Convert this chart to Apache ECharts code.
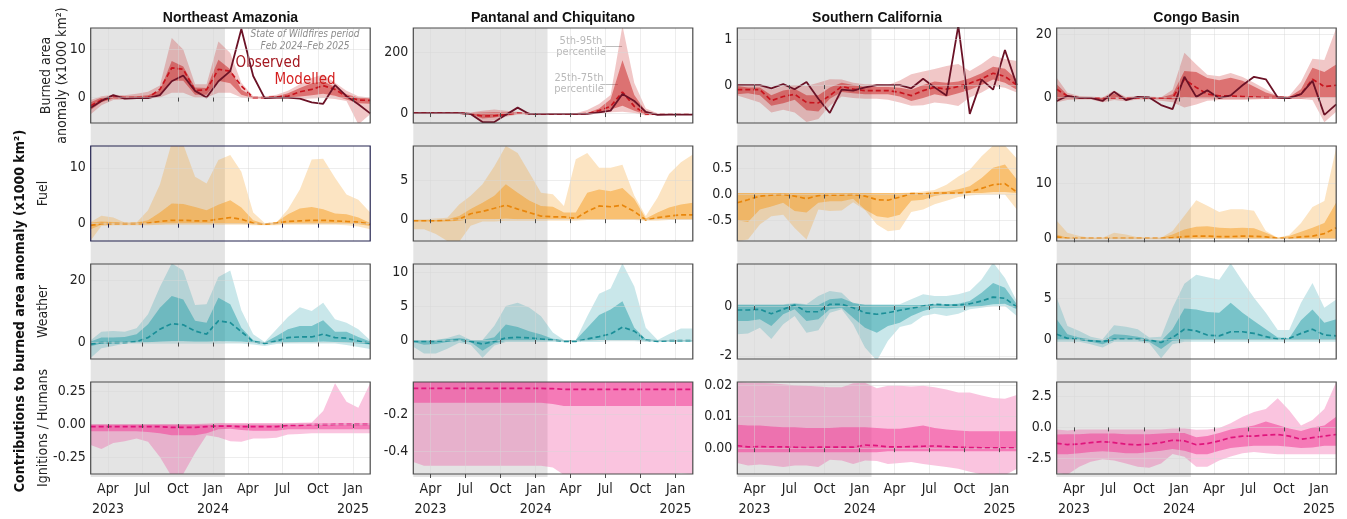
<!DOCTYPE html>
<html><head><meta charset="utf-8">
<script src="https://cdn.jsdelivr.net/npm/echarts@6/dist/echarts.min.js"></script>
<style>html,body{margin:0;padding:0;background:#fff}#c{width:1347px;height:519px}</style>
</head><body><div id="c"></div>
<script>
// ---------------- DATA ----------------
const months = ['2023-02','2023-03','2023-04','2023-05','2023-06','2023-07','2023-08','2023-09','2023-10','2023-11','2023-12',
  '2024-01','2024-02','2024-03','2024-04','2024-05','2024-06','2024-07','2024-08','2024-09','2024-10','2024-11','2024-12','2025-01','2025-02'];
const regions = ['Northeast Amazonia','Pantanal and Chiquitano','Southern California','Congo Basin'];
const rowNames = ['Burned area\nanomaly (x1000 km²)','Fuel','Weather','Ignitions / Humans'];
const xTickMonths = ['2023-04','2023-07','2023-10','2024-01','2024-04','2024-07','2024-10','2025-01'];
const xTickLabels = ['Apr\n2023','Jul','Oct','Jan\n2024','Apr','Jul','Oct','Jan\n2025'];
const shadeEndMonth = '2024-02';

// Row 1: burned area anomaly
const nea_ba_obs = [-2.1,-0.7,0.5,-0.2,-0.1,-0.1,0.5,3.4,4.6,1.4,0.0,3.4,5.5,14.3,4.5,-0.1,0.0,0.0,-0.2,-1.0,-1.3,2.6,0.3,-1.4,-3.3];
const nea_ba_med = [-1.7,-0.5,0.1,0.0,0.0,0.0,1.7,6.2,5.9,1.5,1.6,5.9,5.5,2.4,0.0,0.0,0.1,0.3,1.2,1.7,2.5,1.7,0.2,-0.5,-0.6];
const nea_ba_p05 = [-3.5,-1.6,-0.5,-0.4,-0.3,-0.2,0.0,1.0,1.0,0.0,0.0,1.0,1.0,0.0,-0.3,-0.3,-0.3,-0.3,-0.3,-0.2,-0.1,-0.3,-0.7,-5.6,-3.5];
const nea_ba_p25 = [-2.6,-1.0,-0.2,-0.2,-0.1,0.0,0.4,3.5,3.5,0.6,0.6,3.5,3.0,0.6,-0.1,-0.1,-0.1,0.0,0.2,0.5,0.8,0.4,-0.4,-1.2,-1.3];
const nea_ba_p75 = [-1.0,0.0,0.3,0.2,0.3,0.5,1.5,7.6,6.5,2.1,2.0,7.9,5.9,1.7,0.1,0.1,0.3,0.9,2.0,3.0,3.4,2.2,0.7,0.0,-0.2];
const nea_ba_p95 = [-0.5,0.3,0.6,0.5,0.8,1.2,2.5,12.4,10.0,2.8,2.8,11.7,9.3,3.1,0.3,0.2,0.6,1.4,2.8,4.1,4.8,3.1,1.4,0.3,0.0];

const pan_ba_obs = [0,0,0,0,0,-3,-30,-30,-6,18,-3,-3,-3,-3,-3,-3,2,8,63,40,4,-6,-5,-5,-5];
const pan_ba_med = [0,0,0,0,0,-3,-10,-9,-5,0,-2,-3,-3,-3,-3,-2,8,22,70,22,-3,-4,-4,-4,-4];
const pan_ba_p05 = [-3,-3,-3,-3,-3,-6,-28,-25,-12,-5,-4,-4,-4,-4,-4,-4,0,3,4,0,-8,-6,-5,-5,-5];
const pan_ba_p25 = [-1,-1,-1,-1,-1,-4,-18,-15,-8,-2,-3,-3,-3,-3,-3,-3,3,12,24,8,-5,-5,-4,-4,-4];
const pan_ba_p75 = [1,1,1,1,1,0,2,3,2,2,-1,-2,-2,-2,-2,0,15,46,175,60,5,-3,-3,-3,-3];
const pan_ba_p95 = [2,2,2,2,2,2,8,12,8,4,0,-1,-1,-1,-1,10,30,60,290,100,15,-1,-2,-2,-2];

const soc_ba_obs = [0,0,0,-0.07,0.02,-0.09,0.07,-0.3,-0.61,-0.1,-0.12,-0.05,0,0,0,-0.07,0.14,-0.05,-0.23,1.3,-0.63,0.12,-0.1,0.77,0];
const soc_ba_med = [-0.1,-0.1,-0.1,-0.34,-0.25,-0.2,-0.38,-0.39,-0.23,-0.03,-0.09,-0.12,-0.12,-0.12,-0.16,-0.23,-0.12,-0.05,-0.09,-0.03,0.04,0.14,0.26,0.19,0.0];
const soc_ba_p05 = [-0.23,-0.3,-0.38,-0.6,-0.54,-0.6,-0.81,-0.74,-0.45,-0.25,-0.28,-0.3,-0.3,-0.32,-0.38,-0.45,-0.44,-0.38,-0.41,-0.46,-0.27,-0.16,-0.02,-0.06,-0.16];
const soc_ba_p25 = [-0.2,-0.18,-0.22,-0.45,-0.4,-0.32,-0.55,-0.58,-0.3,-0.15,-0.18,-0.2,-0.2,-0.2,-0.25,-0.35,-0.28,-0.2,-0.25,-0.18,-0.1,0.0,0.12,0.05,-0.1];
const soc_ba_p75 = [-0.02,-0.05,-0.05,-0.22,-0.12,-0.08,-0.22,-0.22,-0.05,0.05,0.0,-0.04,-0.04,-0.04,-0.06,-0.1,0.0,0.08,0.05,0.08,0.15,0.26,0.4,0.36,0.12];
const soc_ba_p95 = [0.02,0.0,0.0,-0.1,-0.02,0.0,-0.02,0.05,0.13,0.12,0.05,0.02,0.02,0.0,0.1,0.24,0.3,0.35,0.42,0.46,0.31,0.46,0.64,0.57,0.53];

const cgo_ba_obs = [-1.1,0.5,-0.1,-0.1,-1.1,1.8,-0.8,0.2,0.0,-2.4,-3.7,6.6,0.2,2.3,-0.2,0.7,3.9,6.6,5.8,0.0,-0.2,1.1,5.3,-5.5,-2.2];
const cgo_ba_med = [2.6,0.5,-0.1,-0.1,-0.1,-0.1,-0.1,-0.1,-0.1,-0.1,-0.1,5.8,3.2,1.1,0.5,0.5,0.3,0.2,0.0,0.0,0.0,1.1,5.8,3.5,3.9];
const cgo_ba_p05 = [-1.5,-0.8,-0.6,-0.6,-1.5,-0.8,-1.2,-0.6,-0.6,-1.0,-1.5,-3.2,-2.2,-1.0,-0.8,-0.8,-0.8,-0.6,-0.5,-0.5,-0.5,-0.5,-0.8,-7.9,-4.5];
const cgo_ba_p25 = [-0.5,-0.2,-0.3,-0.3,-0.8,0.0,-0.5,-0.2,-0.2,-0.4,-0.6,0.0,-0.2,-0.2,-0.3,-0.3,-0.3,-0.3,-0.3,-0.3,-0.3,-0.3,0.0,0.0,0.0];
const cgo_ba_p75 = [4.2,0.8,0.2,0.1,-0.1,1.2,0.0,0.2,0.1,0.0,1.0,8.4,8.1,6.2,5.5,6.3,5.3,3.5,1.6,0.5,0.2,2.6,9.5,8.1,10.5];
const cgo_ba_p95 = [6.3,1.5,0.5,0.3,0.0,2.2,0.2,0.5,0.3,0.1,2.5,14.2,10.5,7.2,6.8,7.8,6.5,4.7,2.6,0.5,0.5,5.0,12.3,11.9,22.0];

// Row 2: fuel
const nea_fuel_med = [-0.3,0.0,0.0,0.0,0.0,0.1,0.4,0.6,0.6,0.5,0.5,0.8,1.1,0.8,0.1,-0.1,0.1,0.4,0.5,0.6,0.6,0.5,0.4,0.3,-0.1];
const nea_fuel_p05 = [-3.0,-0.4,-0.3,-0.3,-0.3,-0.3,-0.2,-0.2,-0.2,-0.2,-0.2,-0.2,-0.2,-0.2,-0.3,-0.3,-0.3,-0.2,-0.2,-0.2,-0.2,-0.2,-0.3,-0.5,-1.0];
const nea_fuel_p25 = [-1.0,-0.2,-0.1,-0.1,-0.1,-0.1,-0.1,0.0,0.0,0.0,0.0,0.0,0.0,0.0,-0.1,-0.2,-0.1,0.0,0.0,0.0,0.0,0.0,0.0,-0.1,-0.4];
const nea_fuel_p75 = [0.2,0.4,0.3,0.1,0.2,0.6,2.0,3.6,3.5,3.0,2.4,3.4,4.2,2.9,0.6,0.0,0.3,1.7,2.7,3.0,2.6,1.8,1.7,1.1,0.1];
const nea_fuel_p95 = [0.3,1.4,1.1,0.2,0.2,2.4,7.0,14.5,14.2,8.4,7.2,11.4,12.3,9.3,2.0,0.1,0.2,2.6,6.1,11.5,11.6,8.2,5.2,4.3,2.0];

const pan_fuel_med = [-0.2,-0.2,-0.2,-0.1,0.0,0.7,1.0,1.4,1.8,1.3,0.85,0.4,0.3,0.3,0.1,1.0,1.7,1.6,1.8,1.0,-0.1,0.2,0.4,0.55,0.55];
const pan_fuel_p05 = [-1.3,-1.3,-1.9,-2.8,-2.9,-0.85,-0.3,-0.3,-0.2,-0.2,-0.2,-0.2,-0.2,-0.2,-0.2,-0.1,-0.1,-0.1,-0.1,-0.1,-0.2,-0.2,-0.1,-0.1,-0.1];
const pan_fuel_p25 = [-0.3,-0.3,-0.3,-0.3,-0.2,0.0,0.0,0.0,0.1,0.0,0.0,0.0,0.0,0.0,0.0,0.0,0.0,0.0,0.0,0.0,-0.1,0.0,0.0,0.0,0.0];
const pan_fuel_p75 = [-0.1,-0.1,-0.1,0.0,0.4,1.3,2.1,3.0,4.5,3.4,2.4,1.7,1.6,0.85,0.85,3.4,3.8,3.6,4.0,2.6,0.1,0.85,1.5,1.9,2.1];
const pan_fuel_p95 = [0.0,0.0,0.1,0.2,1.9,3.0,4.5,6.8,9.4,8.5,6.0,3.4,3.2,1.7,7.7,8.5,6.6,6.6,7.0,3.0,0.4,2.8,5.8,7.3,8.3];

const soc_fuel_med = [-0.16,-0.1,-0.03,-0.01,0.0,-0.03,-0.08,-0.02,-0.01,-0.01,0.0,-0.03,-0.1,-0.11,-0.05,0.02,0.01,0.03,0.03,0.03,0.05,0.12,0.19,0.21,0.05];
const soc_fuel_p05 = [-0.9,-0.87,-0.58,-0.42,-0.39,-0.65,-0.87,-0.29,-0.32,-0.31,-0.15,-0.3,-0.58,-0.71,-0.68,-0.34,-0.29,-0.19,-0.12,-0.05,-0.02,0.0,0.0,0.0,-0.29];
const soc_fuel_p25 = [-0.5,-0.53,-0.29,-0.23,-0.16,-0.32,-0.35,-0.16,-0.13,-0.13,-0.08,-0.29,-0.42,-0.45,-0.39,-0.12,-0.1,-0.03,0.01,0.02,0.03,0.03,0.05,0.05,0.03];
const soc_fuel_p75 = [0.03,0.03,0.03,0.03,0.03,0.03,0.03,0.03,0.03,0.03,0.03,0.03,0.03,0.03,0.03,0.03,0.03,0.05,0.06,0.1,0.16,0.32,0.52,0.58,0.29];
const soc_fuel_p95 = [0.03,0.03,0.03,0.03,0.03,0.03,0.03,0.03,0.03,0.03,0.03,0.03,0.03,0.03,0.03,0.04,0.06,0.09,0.19,0.35,0.48,0.74,0.95,0.95,0.7];

const cgo_fuel_med = [0.25,0,0,0,0,0,0,0,0,0,0.1,0.3,0.4,0.4,0.3,0.3,0.4,0.35,0.25,0,0,0.25,0.4,0.85,1.9];
const cgo_fuel_p05 = [-0.2,-0.2,-0.2,-0.2,-0.2,-0.2,-0.2,-0.2,-0.2,-0.2,-0.2,-0.2,-0.2,-0.2,-0.2,-0.2,-0.2,-0.2,-0.2,-0.2,-0.2,-0.2,-0.2,-0.2,-0.2];
const cgo_fuel_p25 = [-0.1,-0.1,-0.1,-0.1,-0.1,-0.1,-0.1,-0.1,-0.1,-0.1,-0.1,-0.1,-0.1,-0.1,-0.1,-0.1,-0.1,-0.1,-0.1,-0.1,-0.1,-0.1,-0.1,-0.1,-0.1];
const cgo_fuel_p75 = [0.7,0.1,0.1,0.1,0.1,0.1,0.1,0.1,0.1,0.1,0.7,1.6,2.1,2.2,1.9,1.8,1.9,1.8,1.0,0.1,0.4,1.2,1.9,2.8,6.5];
const cgo_fuel_p95 = [3.2,1.0,0.4,0.1,0.1,1.0,0.7,0.2,0.1,0.1,1.3,4.1,6.9,5.9,4.8,5.3,5.3,5.0,1.3,0.1,0.6,2.8,5.7,6.8,16.5];

// Row 3: weather
const nea_wea_med = [-0.5,0,0,0,0.3,1.6,4.3,6.1,5.7,3.7,2.7,7.0,6.4,3.5,0.3,-0.3,0.5,1.6,1.8,1.8,2.7,1.6,1.4,0.5,-0.3];
const nea_wea_p05 = [-5.0,-1.8,-1.1,-0.3,-0.3,-0.3,-0.3,-0.3,-0.3,-0.3,-0.3,-0.3,-0.3,-0.3,-0.6,-1.1,-0.5,-0.3,-0.3,-0.3,-0.3,-0.3,-0.8,-1.4,-2.1];
const nea_wea_p25 = [-1.2,-0.3,-0.3,0,0,0.1,0.3,0.5,0.5,0.3,0.3,0.5,0.4,0.3,0,-0.5,0,0.1,0.2,0.2,0.3,0.2,0,-0.3,-0.6];
const nea_wea_p75 = [0.3,1.6,1.6,1.8,2.7,5.9,11.2,15.0,13.9,7.0,6.4,14.4,12.3,4.8,0.7,0.0,2.1,4.3,5.3,5.3,7.2,3.5,3.5,1.8,0.3];
const nea_wea_p95 = [0.7,3.5,3.7,3.5,4.6,9.1,17.9,25.5,23.2,12.1,12.3,21.1,23.2,10.4,2.7,0.2,4.3,8.2,11.4,10.2,12.8,7.5,6.4,4.3,0.7];

const pan_wea_med = [-0.2,-0.2,-0.2,-0.1,0.0,-0.2,-0.6,-0.2,0.3,0.4,0.3,0.15,0.0,-0.2,-0.2,0.15,0.5,0.9,1.9,1.3,0.0,-0.2,-0.1,-0.1,-0.1];
const pan_wea_p05 = [-1.0,-2.0,-2.0,-1.3,-0.4,-0.7,-2.6,-0.8,-0.3,-0.3,-0.3,-0.3,-0.3,-0.3,-0.3,-0.3,-0.3,-0.2,-0.2,-0.2,-0.3,-0.3,-0.3,-0.3,-0.3];
const pan_wea_p25 = [-0.3,-0.7,-0.6,-0.3,-0.1,-0.3,-1.6,-0.5,-0.1,-0.1,-0.1,-0.1,-0.1,-0.2,-0.2,-0.1,0,0,0,0,-0.1,-0.2,-0.2,-0.2,-0.2];
const pan_wea_p75 = [0.0,0.0,0.0,0.1,0.3,0.0,0.0,0.4,2.3,1.9,1.3,0.8,0.2,0.0,0.0,1.8,3.7,4.5,5.7,1.8,0.1,0.0,0.0,0.0,0.0];
const pan_wea_p95 = [0.0,0.0,0.0,0.3,0.8,0.0,0.0,2.1,5.0,5.5,4.8,3.5,1.1,0.0,0.0,3.5,6.8,7.6,11.3,7.9,1.8,0.0,0.9,1.7,1.7];

const soc_wea_med = [-0.16,-0.16,-0.13,-0.31,-0.13,0.04,-0.23,-0.23,0.07,0.07,-0.07,-0.27,-0.33,-0.27,-0.17,-0.09,0.0,0.07,0.04,0.04,0.09,0.2,0.36,0.31,-0.04];
const soc_wea_p05 = [-1.13,-1.1,-0.87,-1.33,-0.73,-0.4,-1.07,-0.97,-0.27,-0.13,-0.73,-1.67,-2.2,-1.4,-0.84,-0.73,-0.4,-0.31,-0.4,-0.31,-0.13,-0.07,0.0,0.0,-0.4];
const soc_wea_p25 = [-0.6,-0.6,-0.53,-0.8,-0.33,-0.13,-0.6,-0.53,-0.13,-0.07,-0.47,-0.87,-1.07,-0.8,-0.67,-0.4,-0.2,-0.07,-0.09,-0.07,-0.04,0.0,0.07,0.09,-0.13];
const soc_wea_p75 = [0.04,0.04,0.04,0.04,0.04,0.09,0.04,0.04,0.27,0.31,0.13,0.04,0.04,0.04,0.04,0.04,0.04,0.07,0.07,0.09,0.2,0.53,0.93,0.73,0.07];
const soc_wea_p95 = [0.07,0.07,0.07,0.07,0.07,0.12,0.07,0.4,0.6,0.53,0.09,0.07,0.07,0.07,0.07,0.27,0.47,0.4,0.4,0.47,0.6,1.07,1.75,1.13,0.2];

const cgo_wea_med = [0.6,0.1,0,-0.2,-0.3,0,0,0,-0.1,-0.4,0.2,1.2,1.0,0.5,0.4,0.9,0.9,0.7,0.3,0,0.1,0.7,1.2,0.5,0.4];
const cgo_wea_p05 = [-0.3,-0.3,-0.3,-0.6,-1.0,-0.3,-0.3,-0.3,-0.5,-2.3,-0.6,-0.3,-0.3,-0.3,-0.3,-0.3,-0.3,-0.3,-0.3,-0.3,-0.3,-0.3,-0.3,-0.3,-0.3];
const cgo_wea_p25 = [-0.1,-0.1,-0.1,-0.3,-0.6,-0.1,-0.1,-0.1,-0.3,-1.2,-0.2,-0.1,-0.1,-0.1,-0.1,-0.1,-0.1,-0.1,-0.1,-0.1,-0.1,-0.1,-0.1,-0.1,-0.1];
const cgo_wea_p75 = [2.4,0.6,0.2,0.0,-0.2,0.6,0.5,0.3,0.0,-0.2,1.2,3.7,3.6,3.3,3.2,4.4,3.2,2.2,1.2,0.2,0.1,2.3,3.6,2.0,2.4];
const cgo_wea_p95 = [5.0,1.6,1.0,0.3,0.0,1.7,1.5,1.2,0.2,0.3,3.8,6.7,7.8,7.5,7.2,9.2,7.0,5.0,3.2,1.1,1.1,4.4,6.8,3.8,4.8];

// Row 4: ignitions / humans
const nea_ign_med = [-0.02,-0.02,-0.02,-0.02,-0.02,-0.02,-0.02,-0.025,-0.025,-0.025,-0.02,-0.015,-0.015,-0.02,-0.02,-0.02,-0.02,-0.01,-0.01,-0.005,-0.005,-0.003,-0.003,-0.003,-0.003];
const nea_ign_p05 = [-0.16,-0.19,-0.145,-0.13,-0.11,-0.135,-0.25,-0.4,-0.38,-0.22,-0.085,-0.1,-0.13,-0.135,-0.11,-0.11,-0.105,-0.08,-0.075,-0.07,-0.07,-0.07,-0.07,-0.07,-0.07];
const nea_ign_p25 = [-0.055,-0.055,-0.055,-0.055,-0.055,-0.06,-0.07,-0.085,-0.085,-0.085,-0.07,-0.04,-0.035,-0.045,-0.05,-0.05,-0.05,-0.04,-0.04,-0.04,-0.04,-0.04,-0.04,-0.04,-0.04];
const nea_ign_p75 = [0.0,0.0,0.0,0.0,0.0,0.0,0.0,0.0,0.0,0.0,0.0,0.005,0.005,0.005,0.005,0.005,0.005,0.005,0.005,0.005,0.005,0.005,0.005,0.005,0.005];
const nea_ign_p95 = [0.0,0.0,0.0,0.0,0.0,0.0,0.0,0.0,0.0,0.0,0.005,0.005,0.005,0.005,0.005,0.005,0.005,0.005,0.01,0.012,0.1,0.31,0.17,0.125,0.31];

const pan_ign_med = [-0.061,-0.061,-0.061,-0.061,-0.061,-0.061,-0.061,-0.061,-0.061,-0.061,-0.061,-0.061,-0.062,-0.066,-0.066,-0.066,-0.066,-0.066,-0.066,-0.066,-0.066,-0.066,-0.066,-0.066,-0.066];
const pan_ign_p05 = [-0.46,-0.48,-0.48,-0.48,-0.48,-0.48,-0.48,-0.48,-0.48,-0.48,-0.48,-0.48,-0.49,-0.53,-0.535,-0.535,-0.535,-0.535,-0.535,-0.535,-0.535,-0.535,-0.53,-0.52,-0.525];
const pan_ign_p25 = [-0.139,-0.139,-0.139,-0.139,-0.139,-0.139,-0.139,-0.139,-0.139,-0.139,-0.139,-0.139,-0.145,-0.156,-0.156,-0.156,-0.156,-0.156,-0.156,-0.156,-0.156,-0.156,-0.156,-0.156,-0.156];
const pan_ign_p75 = [-0.015,-0.015,-0.015,-0.015,-0.015,-0.015,-0.015,-0.015,-0.015,-0.015,-0.015,-0.015,-0.015,-0.015,-0.015,-0.015,-0.015,-0.015,-0.015,-0.015,-0.015,-0.015,-0.015,-0.015,-0.015];
const pan_ign_p95 = [0,0,0,0,0,0,0,0,0,0,0,0,0,0,0,0,0,0,0,0,0,0,0,0,0];

const soc_ign_med = [0.0008,0.0004,0.0005,0.0004,0.0004,0.0003,0.0002,0.0003,0.0003,0.0003,0.0003,0.001,0.0008,0.0004,0.0004,0.0005,0.0006,0.0007,0.0005,0.0003,0.0002,0.0001,0.0001,0.0001,0.0001];
const soc_ign_p05 = [-0.0047,-0.0055,-0.0052,-0.0055,-0.006,-0.0055,-0.0055,-0.006,-0.0037,-0.0039,-0.005,-0.0039,-0.0041,-0.005,-0.0047,-0.0044,-0.005,-0.0055,-0.006,-0.0065,-0.0075,-0.0083,-0.0083,-0.0086,-0.0065];
const soc_ign_p25 = [-0.0013,-0.0013,-0.0013,-0.0013,-0.0013,-0.0013,-0.0013,-0.0013,-0.0013,-0.0013,-0.0013,-0.0013,-0.0013,-0.001,-0.001,-0.001,-0.001,-0.001,-0.001,-0.001,-0.001,-0.001,-0.001,-0.001,-0.001];
const soc_ign_p75 = [0.0074,0.0072,0.0072,0.0069,0.0066,0.0066,0.0064,0.0064,0.0064,0.0066,0.0066,0.0066,0.0064,0.0062,0.0062,0.0066,0.0072,0.0064,0.0059,0.0056,0.0054,0.0054,0.0054,0.0054,0.0054];
const soc_ign_p95 = [0.021,0.0208,0.0208,0.0206,0.0203,0.02,0.0198,0.0196,0.0193,0.0193,0.0206,0.0208,0.019,0.0198,0.0198,0.0196,0.0198,0.0193,0.0186,0.0177,0.0177,0.0167,0.0159,0.0157,0.0169];

const cgo_ign_med = [-1.3,-1.4,-1.35,-1.24,-1.16,-1.24,-1.37,-1.42,-1.37,-1.24,-1.05,-1.1,-1.42,-1.32,-1.1,-0.84,-0.71,-0.71,-0.63,-0.58,-0.71,-0.97,-0.84,-0.71,-0.58];
const cgo_ign_p05 = [-3.7,-3.85,-3.2,-2.8,-2.6,-2.7,-2.95,-3.2,-3.3,-2.95,-2.16,-2.4,-3.2,-3.2,-2.7,-2.37,-2.1,-2.0,-2.1,-2.2,-2.2,-2.2,-2.2,-2.2,-2.2];
const cgo_ign_p25 = [-2.2,-2.2,-2.1,-2.0,-1.95,-2.0,-2.1,-2.1,-2.0,-1.9,-1.76,-1.9,-2.2,-2.2,-1.9,-1.68,-1.58,-1.5,-1.5,-1.5,-1.58,-1.68,-1.63,-1.5,-1.5];
const cgo_ign_p75 = [-0.58,-0.55,-0.55,-0.5,-0.5,-0.5,-0.55,-0.55,-0.55,-0.5,-0.45,-0.45,-0.8,-0.7,-0.45,-0.18,0.0,0.16,0.47,0.2,-0.1,-0.3,0.0,0.16,0.87];
const cgo_ign_p95 = [-0.18,-0.25,-0.18,-0.18,-0.18,-0.18,-0.18,-0.18,-0.18,-0.18,-0.1,-0.1,-0.2,-0.18,-0.05,0.34,0.87,1.26,1.5,2.37,1.4,0.16,0.6,1.5,3.7];

// Y axis ranges, tick values and tick labels
const nea_ba_yr = [-5.3, 14.5],  nea_ba_yt = [0, 10],  nea_ba_yl = ['0','10'];
const pan_ba_yr = [-33, 282],    pan_ba_yt = [0, 200], pan_ba_yl = ['0','200'];
const soc_ba_yr = [-0.83, 1.25], soc_ba_yt = [0, 1],   soc_ba_yl = ['0','1'];
const cgo_ba_yr = [-8.1, 22.1],  cgo_ba_yt = [0, 20],  cgo_ba_yl = ['0','20'];
const nea_fuel_yr = [-3.1, 13.9], nea_fuel_yt = [0, 10], nea_fuel_yl = ['0','10'];
const pan_fuel_yr = [-2.8, 9.4],  pan_fuel_yt = [0, 5],  pan_fuel_yl = ['0','5'];
const soc_fuel_yr = [-0.9, 0.94], soc_fuel_yt = [-0.5, 0, 0.5], soc_fuel_yl = ['-0.5','0.0','0.5'];
const cgo_fuel_yr = [-0.5, 16.8], cgo_fuel_yt = [0, 10], cgo_fuel_yl = ['0','10'];
const nea_wea_yr = [-5.3, 25.3], nea_wea_yt = [0, 20], nea_wea_yl = ['0','20'];
const pan_wea_yr = [-2.8, 11.2], pan_wea_yt = [0, 5, 10], pan_wea_yl = ['0','5','10'];
const soc_wea_yr = [-2.13, 1.69], soc_wea_yt = [-2, 0], soc_wea_yl = ['-2','0'];
const cgo_wea_yr = [-2.4, 9.1], cgo_wea_yt = [0, 5], cgo_wea_yl = ['0','5'];
const nea_ign_yr = [-0.38, 0.32], nea_ign_yt = [-0.25, 0, 0.25], nea_ign_yl = ['-0.25','0.00','0.25'];
const pan_ign_yr = [-0.525, -0.026], pan_ign_yt = [-0.4, -0.2], pan_ign_yl = ['-0.4','-0.2'];
const soc_ign_yr = [-0.0082, 0.021], soc_ign_yt = [0, 0.01, 0.02], soc_ign_yl = ['0.00','0.01','0.02'];
const cgo_ign_yr = [-3.8, 3.7], cgo_ign_yt = [-2.5, 0, 2.5], cgo_ign_yl = ['-2.5','0.0','2.5'];

// percentile leader lines (Pantanal burned area panel): [from date, to date, value]
const leader95 = ['2024-06-23','2024-08-14', 220];
const leader25 = ['2024-06-18','2024-08-03', 95];

// ---------------- BUILD ----------------
const FONT = '"Liberation Sans Narrow","DejaVu Sans Condensed","Roboto Condensed","Arial Narrow","Liberation Sans",sans-serif';
const TFONT = '"Liberation Sans","DejaVu Sans",Arial,sans-serif';
const DAY = 86400000;
function utc(s, defDay){ const p = s.split('-').map(Number); return Date.UTC(p[0], p[1]-1, p[2] || defDay); }
const T0 = utc(months[0], 15);
function dayPos(s, defDay){ return (utc(s, defDay) - T0) / DAY; }   // days since first data month (mid-month)
const X = months.map(s => dayPos(s, 15));
const X0 = X[0], X1 = X[X.length-1];
const xTicks = xTickMonths.map(s => dayPos(s, 1));
const shadeEnd = dayPos(shadeEndMonth, 1);

const panelData = [
  [ {p05:nea_ba_p05,p25:nea_ba_p25,med:nea_ba_med,p75:nea_ba_p75,p95:nea_ba_p95,obs:nea_ba_obs,yr:nea_ba_yr,yt:nea_ba_yt,yl:nea_ba_yl},
    {p05:pan_ba_p05,p25:pan_ba_p25,med:pan_ba_med,p75:pan_ba_p75,p95:pan_ba_p95,obs:pan_ba_obs,yr:pan_ba_yr,yt:pan_ba_yt,yl:pan_ba_yl},
    {p05:soc_ba_p05,p25:soc_ba_p25,med:soc_ba_med,p75:soc_ba_p75,p95:soc_ba_p95,obs:soc_ba_obs,yr:soc_ba_yr,yt:soc_ba_yt,yl:soc_ba_yl},
    {p05:cgo_ba_p05,p25:cgo_ba_p25,med:cgo_ba_med,p75:cgo_ba_p75,p95:cgo_ba_p95,obs:cgo_ba_obs,yr:cgo_ba_yr,yt:cgo_ba_yt,yl:cgo_ba_yl} ],
  [ {p05:nea_fuel_p05,p25:nea_fuel_p25,med:nea_fuel_med,p75:nea_fuel_p75,p95:nea_fuel_p95,yr:nea_fuel_yr,yt:nea_fuel_yt,yl:nea_fuel_yl},
    {p05:pan_fuel_p05,p25:pan_fuel_p25,med:pan_fuel_med,p75:pan_fuel_p75,p95:pan_fuel_p95,yr:pan_fuel_yr,yt:pan_fuel_yt,yl:pan_fuel_yl},
    {p05:soc_fuel_p05,p25:soc_fuel_p25,med:soc_fuel_med,p75:soc_fuel_p75,p95:soc_fuel_p95,yr:soc_fuel_yr,yt:soc_fuel_yt,yl:soc_fuel_yl},
    {p05:cgo_fuel_p05,p25:cgo_fuel_p25,med:cgo_fuel_med,p75:cgo_fuel_p75,p95:cgo_fuel_p95,yr:cgo_fuel_yr,yt:cgo_fuel_yt,yl:cgo_fuel_yl} ],
  [ {p05:nea_wea_p05,p25:nea_wea_p25,med:nea_wea_med,p75:nea_wea_p75,p95:nea_wea_p95,yr:nea_wea_yr,yt:nea_wea_yt,yl:nea_wea_yl},
    {p05:pan_wea_p05,p25:pan_wea_p25,med:pan_wea_med,p75:pan_wea_p75,p95:pan_wea_p95,yr:pan_wea_yr,yt:pan_wea_yt,yl:pan_wea_yl},
    {p05:soc_wea_p05,p25:soc_wea_p25,med:soc_wea_med,p75:soc_wea_p75,p95:soc_wea_p95,yr:soc_wea_yr,yt:soc_wea_yt,yl:soc_wea_yl},
    {p05:cgo_wea_p05,p25:cgo_wea_p25,med:cgo_wea_med,p75:cgo_wea_p75,p95:cgo_wea_p95,yr:cgo_wea_yr,yt:cgo_wea_yt,yl:cgo_wea_yl} ],
  [ {p05:nea_ign_p05,p25:nea_ign_p25,med:nea_ign_med,p75:nea_ign_p75,p95:nea_ign_p95,yr:nea_ign_yr,yt:nea_ign_yt,yl:nea_ign_yl},
    {p05:pan_ign_p05,p25:pan_ign_p25,med:pan_ign_med,p75:pan_ign_p75,p95:pan_ign_p95,yr:pan_ign_yr,yt:pan_ign_yt,yl:pan_ign_yl},
    {p05:soc_ign_p05,p25:soc_ign_p25,med:soc_ign_med,p75:soc_ign_p75,p95:soc_ign_p95,yr:soc_ign_yr,yt:soc_ign_yt,yl:soc_ign_yl},
    {p05:cgo_ign_p05,p25:cgo_ign_p25,med:cgo_ign_med,p75:cgo_ign_p75,p95:cgo_ign_p95,yr:cgo_ign_yr,yt:cgo_ign_yt,yl:cgo_ign_yl} ]
];

const rowStyle = [
  {light:'rgba(200,30,30,0.25)', dark:'rgba(200,30,30,0.5)', med:'#c8141e'},
  {light:'rgba(245,155,31,0.27)', dark:'rgba(245,155,31,0.5)', med:'#e8860c'},
  {light:'rgba(40,160,170,0.25)', dark:'rgba(40,160,170,0.5)', med:'#1b8f98'},
  {light:'rgba(240,60,150,0.3)', dark:'rgba(240,60,150,0.55)', med:'#e0157c'}
];
const colLeft = [90.7, 413.3, 737.3, 1056.7];
const PW = 279.5;
const rowTop = [28, 146, 264, 382];
const PH = 95;
const OBS = '#6b1226';
const GRID_LINE = 'rgba(215,215,215,0.45)';
const ZL = 1;

const grid = [], xAxis = [], yAxis = [], series = [];

// filled band between lo and hi, drawn through the axes' own scale (api.coord)
function band(gi, lo, hi, color){
  return {type:'custom', xAxisIndex:gi, yAxisIndex:gi, zlevel:ZL, z:2, silent:true, clip:true,
    data:[[X[0], lo[0]]],
    renderItem: function(params, api){
      const pts = [];
      for (let i = 0; i < X.length; i++) pts.push(api.coord([X[i], hi[i]]));
      for (let i = X.length - 1; i >= 0; i--) pts.push(api.coord([X[i], lo[i]]));
      const cs = params.coordSys;
      return {type:'group', children:[{type:'polygon', shape:{points: pts}, style:{fill: color, stroke: null}}],
        clipPath:{type:'rect', shape:{x: cs.x, y: cs.y, width: cs.width, height: cs.height}}};
    }};
}

for (let r = 0; r < 4; r++) {
  for (let c = 0; c < 4; c++) {
    const gi = r*4 + c;
    const d = panelData[r][c];
    const st = rowStyle[r];
    const frame = (r === 1 && c === 0) ? '#23234f' : '#4a4a4a';
    grid.push({left: colLeft[c], top: rowTop[r], width: PW, height: PH, show: true,
      borderColor: frame, borderWidth: 1.2, backgroundColor: 'transparent', zlevel: ZL, z: 6});
    xAxis.push({type:'value', gridIndex: gi, min: X0, max: X1, zlevel: ZL, z: 5,
      axisLine:{show:false},
      axisTick:{show:true, inside:false, customValues: xTicks, length:4, lineStyle:{color: frame, width:1}},
      axisLabel:{show: r === 3, customValues: xTicks, fontFamily: FONT, fontSize: 14, color:'#222',
        lineHeight: 20, margin: 5,
        formatter: v => { const k = xTicks.findIndex(t => Math.abs(t - v) < 1e-6); return k >= 0 ? xTickLabels[k] : ''; }},
      splitLine:{show:true, lineStyle:{color: GRID_LINE, width:1}}
    });
    const yo = {type:'value', gridIndex: gi, min: d.yr[0], max: d.yr[1], zlevel: ZL, z: 5,
      axisLine:{show:false},
      axisTick:{show:false, customValues: d.yt},
      axisLabel:{customValues: d.yt, fontFamily: FONT, fontSize: 14, color:'#222', margin: 5,
        formatter: v => { const k = d.yt.findIndex(t => Math.abs(t - v) < 1e-9); return k >= 0 ? d.yl[k] : ''; }},
      splitLine:{show:true, lineStyle:{color: GRID_LINE, width:1}}
    };
    if (c === 0) {
      yo.name = rowNames[r];
      yo.nameLocation = 'middle';
      yo.nameMoveOverlap = false;
      yo.nameGap = r === 0 ? 20 : 39;
      yo.nameTextStyle = {fontFamily: FONT, fontSize: 14, color:'#222', lineHeight: 16};
    }
    yAxis.push(yo);
    series.push(band(gi, d.p05, d.p95, st.light));
    series.push(band(gi, d.p25, d.p75, st.dark));
    const medS = {type:'line', xAxisIndex:gi, yAxisIndex:gi, zlevel:ZL, z:3, silent:true, symbol:'none',
      data: X.map((x,i)=>[x, d.med[i]]), lineStyle:{color: st.med, width:1.7, type:[5,3]}};
    if (r === 0 && c === 1) {
      medS.markLine = {silent:true, symbol:['none','none'], label:{show:false}, animation:false,
        lineStyle:{color:'#bdbdbd', width:1, type:'solid'},
        data:[
          [{coord:[dayPos(leader95[0]), leader95[2]]}, {coord:[dayPos(leader95[1]), leader95[2]]}],
          [{coord:[dayPos(leader25[0]), leader25[2]]}, {coord:[dayPos(leader25[1]), leader25[2]]}]
        ]};
    }
    series.push(medS);
    if (d.obs) {
      series.push({type:'line', xAxisIndex:gi, yAxisIndex:gi, zlevel:ZL, z:4, silent:true, symbol:'none',
        data: X.map((x,i)=>[x, d.obs[i]]), lineStyle:{color: OBS, width:1.8}});
    }
  }
}
// background shaded period spanning all rows of each column
for (let c = 0; c < 4; c++) {
  const gi = 16 + c;
  grid.push({left: colLeft[c], top: rowTop[0], width: PW, height: rowTop[3] + PH - rowTop[0], show:false, zlevel:0, z:0});
  xAxis.push({type:'value', gridIndex: gi, min: X0, max: X1, show:false});
  yAxis.push({type:'value', gridIndex: gi, min: 0, max: 1, show:false});
  series.push({type:'line', xAxisIndex: gi, yAxisIndex: gi, zlevel:0, z:1, silent:true, symbol:'none',
    data:[[X0, 0.5]], lineStyle:{opacity:0},
    markArea:{silent:true, itemStyle:{color:'#e4e4e4'}, data:[[{xAxis: X0}, {xAxis: shadeEnd}]]}});
}

const graphic = [];
regions.forEach((t, c) => {
  graphic.push({type:'text', x: colLeft[c] + PW/2, y: 18, zlevel: ZL,
    style:{text: t, font: 'bold 14px ' + TFONT, fill:'#111', align:'center', verticalAlign:'middle'}});
});
graphic.push({type:'text', x: 20, y: 311, rotation: Math.PI/2, zlevel: ZL,
  style:{text:'Contributions to burned area anomaly (x1000 km²)', font:'bold 14px ' + FONT, fill:'#111', align:'center', verticalAlign:'middle'}});
graphic.push({type:'text', x: 305, y: 40, zlevel: ZL,
  style:{text:'State of Wildfires period\nFeb 2024–Feb 2025', font:'italic 10px ' + FONT, fill:'#8c8c8c', align:'center', verticalAlign:'middle', lineHeight: 12}});
graphic.push({type:'text', x: 268, y: 63, zlevel: ZL,
  style:{text:'Observed', font:'15px ' + FONT, fill:'#a3171f', align:'center', verticalAlign:'middle'}});
graphic.push({type:'text', x: 305, y: 80, zlevel: ZL,
  style:{text:'Modelled', font:'15px ' + FONT, fill:'#d41f1f', align:'center', verticalAlign:'middle'}});
graphic.push({type:'text', x: 581, y: 47, zlevel: ZL,
  style:{text:'5th-95th\npercentile', font:'11px ' + FONT, fill:'#b9b9b9', align:'center', verticalAlign:'middle', lineHeight: 11}});
graphic.push({type:'text', x: 579, y: 84, zlevel: ZL,
  style:{text:'25th-75th\npercentile', font:'11px ' + FONT, fill:'#b9b9b9', align:'center', verticalAlign:'middle', lineHeight: 11}});

const chart = echarts.init(document.getElementById('c'), null, {renderer:'canvas'});
chart.setOption({animation:false, backgroundColor:'#fff', grid, xAxis, yAxis, series, graphic});
</script></body></html>
